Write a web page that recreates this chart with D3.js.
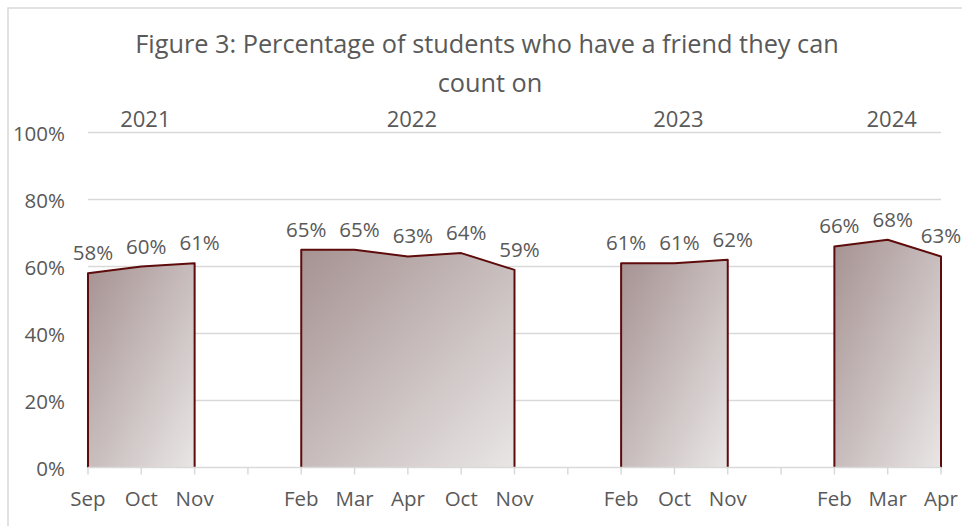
<!DOCTYPE html>
<html>
<head>
<meta charset="utf-8">
<title>Figure 3</title>
<script src="https://cdn.jsdelivr.net/npm/d3@7"></script>
<style>
	body { margin: 0; background: #fff; }
	svg text { font-family: "Open Sans", sans-serif; fill: #595959; }
</style>
</head>
<body>
<svg id="chart" width="962" height="526"></svg>
<script>
// data (null = empty gap between years)
var months = ["Sep","Oct","Nov","","Feb","Mar","Apr","Oct","Nov","","Feb","Oct","Nov","","Feb","Mar","Apr"];
var values = [58, 60, 61, null, 65, 65, 63, 64, 59, null, 61, 61, 62, null, 66, 68, 63];
var years = ["2021", "2022", "2023", "2024"];
var yTicks = [0, 20, 40, 60, 80, 100];

var svg = d3.select("#chart");

// light frame round the chart area
svg.append("rect")
	.attr("x", 8).attr("y", 8)
	.attr("width", 962).attr("height", 530)
	.attr("fill", "none")
	.attr("stroke", "#d9d9d9")
	.attr("stroke-width", 1.5);

var x = d3.scalePoint()
	.domain(d3.range(months.length))
	.range([88, 941]);

var y = d3.scaleLinear()
	.domain([0, 100])
	.range([467.5, 132.5]);

// title
var title = svg.append("text")
	.attr("text-anchor", "middle")
	.style("font-size", "25.3px");
title.append("tspan").attr("x", 487).attr("y", 53).text("Figure 3: Percentage of students who have a friend they can");
title.append("tspan").attr("x", 490).attr("y", 92).text("count on");

// gridlines
svg.append("g")
	.selectAll("line")
	.data(yTicks.slice(1))
	.enter()
	.append("line")
	.attr("x1", x(0)).attr("x2", x(months.length - 1))
	.attr("y1", function(d) { return y(d); })
	.attr("y2", function(d) { return y(d); })
	.attr("stroke", "#d9d9d9")
	.attr("stroke-width", 1.5);

// y labels
svg.append("g")
	.selectAll("text")
	.data(yTicks)
	.enter()
	.append("text")
	.attr("x", 65)
	.attr("y", function(d) { return y(d) + 8; })
	.attr("text-anchor", "end")
	.style("font-size", "20.5px")
	.text(function(d) { return d + "%"; });

// split the series into runs between the gaps
var segments = [];
var cur = [];
values.forEach(function(v, i) {
	if (v == null) {
		if (cur.length) segments.push(cur);
		cur = [];
	} else {
		cur.push(i);
	}
});
if (cur.length) segments.push(cur);

var defs = svg.append("defs");
var grad = defs.append("linearGradient")
	.attr("id", "fillGrad")
	.attr("x1", "0").attr("y1", "0")
	.attr("x2", "1").attr("y2", "1");
grad.append("stop").attr("offset", "0%").attr("stop-color", "#a69292");
grad.append("stop").attr("offset", "100%").attr("stop-color", "#e9e6e6");

var area = d3.area()
	.x(function(i) { return x(i); })
	.y0(y(0))
	.y1(function(i) { return y(values[i]); });

var outline = d3.line()
	.x(function(p) { return p[0]; })
	.y(function(p) { return p[1]; });

var areas = svg.append("g");
areas.selectAll("path.fill")
	.data(segments)
	.enter()
	.append("path")
	.attr("class", "fill")
	.attr("d", area)
	.attr("fill", "url(#fillGrad)");

// border on top and sides only
areas.selectAll("path.edge")
	.data(segments)
	.enter()
	.append("path")
	.attr("class", "edge")
	.attr("d", function(seg) {
		var pts = [[x(seg[0]), y(0)]];
		seg.forEach(function(i) { pts.push([x(i), y(values[i])]); });
		pts.push([x(seg[seg.length - 1]), y(0)]);
		return outline(pts);
	})
	.attr("fill", "none")
	.attr("stroke", "#5e0b0b")
	.attr("stroke-width", 2)
	.attr("stroke-linejoin", "round");

// x axis line and ticks
svg.append("line")
	.attr("x1", x(0)).attr("x2", x(months.length - 1))
	.attr("y1", y(0)).attr("y2", y(0))
	.attr("stroke", "#d9d9d9")
	.attr("stroke-width", 1.5);

svg.append("g")
	.selectAll("line")
	.data(d3.range(months.length))
	.enter()
	.append("line")
	.attr("x1", function(i) { return x(i); })
	.attr("x2", function(i) { return x(i); })
	.attr("y1", y(0))
	.attr("y2", y(0) + 7)
	.attr("stroke", "#d9d9d9")
	.attr("stroke-width", 1.5);

svg.append("g")
	.selectAll("text")
	.data(d3.range(months.length))
	.enter()
	.append("text")
	.attr("x", function(i) { return x(i); })
	.attr("y", 506)
	.attr("text-anchor", "middle")
	.style("font-size", "20.5px")
	.text(function(i) { return months[i]; });

// data labels, kept inside the right edge
svg.append("g")
	.selectAll("text")
	.data(d3.range(months.length).filter(function(i) { return values[i] != null; }))
	.enter()
	.append("text")
	.attr("x", function(i) { return Math.min(x(i) + 5, 941); })
	.attr("y", function(i) { return y(values[i]) - 13; })
	.attr("text-anchor", "middle")
	.style("font-size", "20.5px")
	.text(function(i) { return values[i] + "%"; });

// year labels over each run
svg.append("g")
	.selectAll("text")
	.data(segments)
	.enter()
	.append("text")
	.attr("x", function(seg) { return (x(seg[0]) + x(seg[seg.length - 1])) / 2 + 4; })
	.attr("y", 127)
	.attr("text-anchor", "middle")
	.style("font-size", "22px")
	.text(function(seg, k) { return years[k]; });
</script>
</body>
</html>
